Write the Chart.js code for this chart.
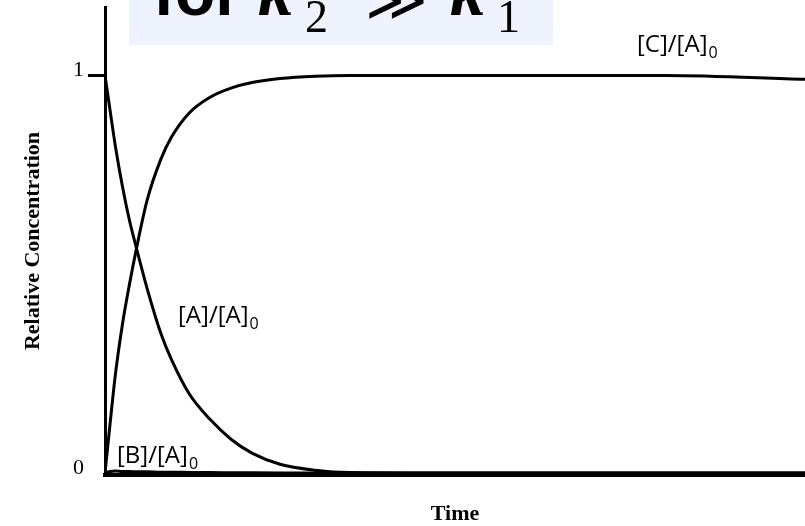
<!DOCTYPE html>
<html>
<head>
<meta charset="utf-8">
<script src="https://cdn.jsdelivr.net/npm/chart.js@4.4.1/dist/chart.umd.min.js"></script>
<style>
  html, body { margin: 0; padding: 0; background: #fff; }
  #wrap { width: 805px; height: 526px; }
</style>
</head>
<body>
<div id="wrap"><canvas id="kinChart" width="805" height="526"></canvas></div>
<script>
  // A -> B -> C, relative concentrations over time (k2 >> k1)
  const times = [0, 0.07, 0.15, 0.25, 0.35, 0.45, 0.6, 0.8, 0.95, 1.2, 1.5, 1.8, 2.1, 2.5, 3, 3.5, 4.5, 6, 8, 10];
  const concA = [1.0, 0.915, 0.82, 0.72, 0.635, 0.565, 0.465, 0.35, 0.285, 0.20, 0.135, 0.085, 0.05, 0.022, 0.007, 0.001, 0, 0, 0, 0];
  const concB = [0, 0.004, 0.005, 0.004, 0.004, 0.003, 0.003, 0.002, 0.002, 0.0015, 0.001, 0.0008, 0.0005, 0.0002, 0, 0, 0, 0, 0, 0];
  const concC = [0, 0.12, 0.25, 0.375, 0.475, 0.565, 0.685, 0.79, 0.845, 0.905, 0.945, 0.968, 0.982, 0.992, 0.998, 1.0, 1.0, 1.0, 1.0, 0.99];
  const yTicks = [0, 1];

  const curveLabels = [
    { main: '[C]/[A]', sub: '0', x: 637, y: 52 },
    { main: '[A]/[A]', sub: '0', x: 178, y: 323 },
    { main: '[B]/[A]', sub: '0', x: 117, y: 463 }
  ];

  function pts(vals) {
    return times.map((t, i) => ({ x: t, y: vals[i] }));
  }

  function line(label, vals) {
    return {
      label,
      data: pts(vals),
      borderColor: '#000',
      borderWidth: 3,
      pointRadius: 0,
      fill: false,
      cubicInterpolationMode: 'monotone'
    };
  }

  // blue header box with "for k2 >> k1" (upper half runs off the top)
  const headerPlugin = {
    id: 'header',
    beforeDraw(chart) {
      const ctx = chart.ctx;
      ctx.save();
      ctx.fillStyle = '#eef3fd';
      ctx.fillRect(129, 0, 424, 45);
      ctx.restore();
    },
    afterDraw(chart) {
      const ctx = chart.ctx;
      ctx.save();
      ctx.fillStyle = '#000';
      ctx.textBaseline = 'alphabetic';
      ctx.textAlign = 'left';
      ctx.font = 'bold 66px "Liberation Sans"';
      ctx.fillText('for', 153, 15);
      ctx.font = 'italic bold 70px "Liberation Serif"';
      ctx.fillText('k', 258, 15);
      ctx.fillText('k', 450, 15);
      ctx.font = '46px "Liberation Serif"';
      ctx.fillText('2', 305, 32);
      ctx.fillText('1', 497, 32);
      ctx.font = '60px "DejaVu Sans"';
      ctx.fillText('\u226B', 365, 20);

      // curve labels with subscript zero
      curveLabels.forEach(l => {
        ctx.font = '24px "Open Sans"';
        ctx.fillText(l.main, l.x, l.y);
        const w = ctx.measureText(l.main).width;
        ctx.font = '16px "Open Sans"';
        ctx.fillText(l.sub, l.x + w + 1, l.y + 6);
      });
      ctx.restore();
    }
  };

  new Chart(document.getElementById('kinChart'), {
    type: 'line',
    data: {
      datasets: [line('[A]/[A]0', concA), line('[B]/[A]0', concB), line('[C]/[A]0', concC)]
    },
    options: {
      responsive: false,
      animation: false,
      devicePixelRatio: 1,
      layout: { padding: { top: 7, right: 0, bottom: 0, left: 0 } },
      plugins: { legend: { display: false }, tooltip: { enabled: false } },
      scales: {
        x: {
          type: 'linear',
          min: 0,
          max: 10,
          afterFit: s => { s.height = 51; s.paddingLeft = 0; s.paddingRight = 0; },
          ticks: { display: false },
          grid: { display: true, drawOnChartArea: false, drawTicks: false },
          border: { display: true, color: '#000', width: 4 },
          title: {
            display: true,
            text: 'Time',
            color: '#000',
            font: { family: 'Liberation Serif', weight: 'bold', size: 22, lineHeight: 1 },
            padding: { top: 0, bottom: 1 }
          }
        },
        y: {
          min: -0.005,
          max: 1.172,
          afterFit: s => { s.width = 105; s.paddingTop = 0; s.paddingBottom = 0; },
          afterBuildTicks: s => { s.ticks = yTicks.map(v => ({ value: v })); },
          ticks: {
            color: '#000',
            padding: 4,
            labelOffset: -5,
            font: { family: 'Liberation Serif', size: 22 }
          },
          grid: {
            drawOnChartArea: false,
            tickLength: 17,
            tickWidth: 3,
            tickColor: c => (c.tick && c.tick.value === 1 ? '#000' : 'rgba(0,0,0,0)')
          },
          border: { display: true, color: '#000', width: 3 },
          title: {
            display: true,
            text: 'Relative Concentration',
            color: '#000',
            font: { family: 'Liberation Serif', weight: 'bold', size: 22, lineHeight: 1.2 },
            padding: { top: 20, bottom: 0 }
          }
        }
      }
    },
    plugins: [headerPlugin]
  });
</script>
</body>
</html>
